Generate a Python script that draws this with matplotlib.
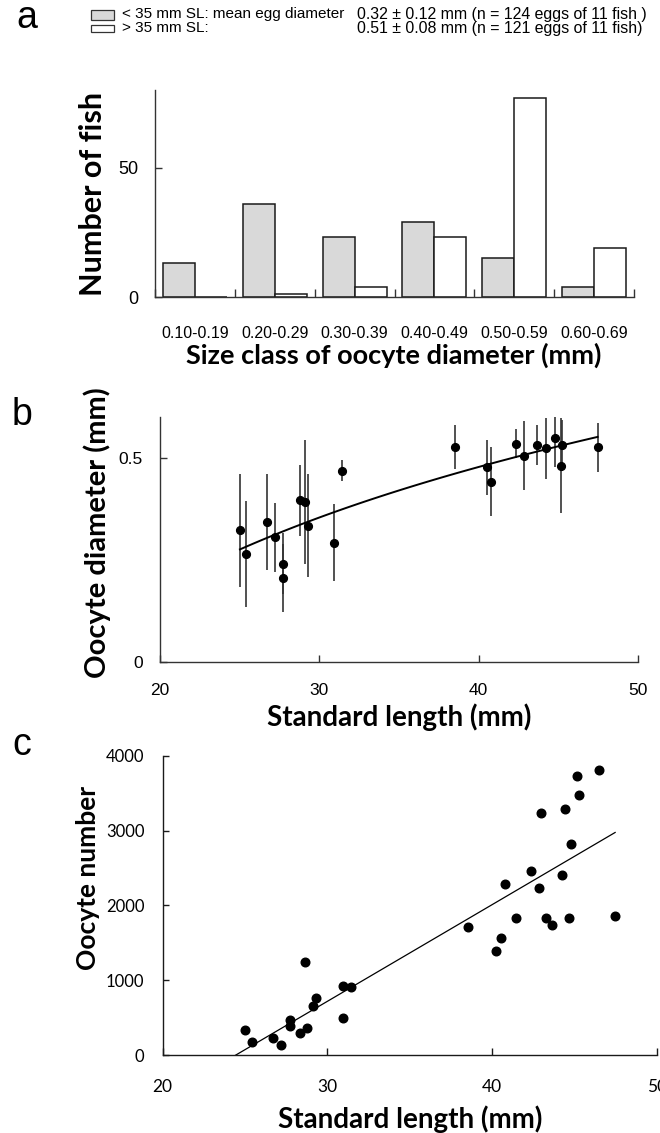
import matplotlib
matplotlib.use("Agg")
import matplotlib.pyplot as plt
from matplotlib.patches import Rectangle
import numpy as np

# panel a: number of fish per oocyte size class
size_classes = ["0.10-0.19", "0.20-0.29", "0.30-0.39", "0.40-0.49", "0.50-0.59", "0.60-0.69"]
small_fish = [13, 36, 23, 29, 15, 4]     # < 35 mm SL
large_fish = [0, 1, 4, 23, 77, 19]       # > 35 mm SL

# panel b: mean oocyte diameter (+/- sd) vs standard length
sl_b = [25.04, 25.44, 26.72, 27.21, 27.72, 27.72, 28.82, 29.13, 29.33, 30.95, 31.46,
        38.54, 40.53, 40.75, 42.34, 42.86, 43.64, 44.24, 44.76, 45.14, 45.25, 47.45]
diam_b = [0.323, 0.264, 0.343, 0.305, 0.241, 0.205, 0.396, 0.392, 0.334, 0.292, 0.469,
          0.528, 0.477, 0.442, 0.535, 0.506, 0.533, 0.524, 0.549, 0.481, 0.531, 0.526]
sd_b = [0.139, 0.130, 0.118, 0.085, 0.074, 0.084, 0.088, 0.152, 0.127, 0.094, 0.025,
        0.054, 0.068, 0.085, 0.036, 0.084, 0.049, 0.075, 0.070, 0.117, 0.063, 0.060]

# panel c: oocyte number vs standard length
sl_c = [25.02, 25.41, 26.69, 27.21, 27.71, 27.71, 28.32, 28.62, 28.79, 29.12, 29.31,
        30.94, 30.94, 31.41, 38.52, 40.23, 40.53, 40.75, 41.44, 42.33, 42.85, 42.96,
        43.24, 43.65, 44.24, 44.41, 44.69, 44.76, 45.12, 45.25, 46.47, 47.46]
count_c = [330, 169, 232, 134, 472, 388, 290, 1238, 365, 659, 766,
           927, 494, 909, 1706, 1390, 1568, 2290, 1835, 2463, 2232, 3238,
           1835, 1742, 2410, 3287, 1826, 2824, 3733, 3470, 3804, 1853]

W, H = 660, 1133
ARIAL = ["Liberation Sans", "DejaVu Sans"]
CALIBRI = ["Lato", "DejaVu Sans"]


def fx(px):
    return px / W


def fy(py):
    return 1 - py / H


def box(left, top, right, bottom):
    return [fx(left), fy(bottom), (right - left) / W, (bottom - top) / H]


def style_axes(ax, color="#333333"):
    for side in ["top", "right"]:
        ax.spines[side].set_visible(False)
    for side in ["left", "bottom"]:
        ax.spines[side].set_color(color)
        ax.spines[side].set_linewidth(1.0)
    ax.tick_params(which="both", direction="in", color=color, width=1.0)


fig = plt.figure(figsize=(W / 100, H / 100), dpi=100)

# ---- panel a
ax1 = fig.add_axes(box(155, 90, 634, 297))
style_axes(ax1)
pos = np.arange(len(size_classes))
ax1.bar(pos - 0.2, small_fish, width=0.4, color="#d9d9d9", edgecolor="#1a1a1a", linewidth=1.1)
ax1.bar(pos + 0.2, large_fish, width=0.4, color="white", edgecolor="#1a1a1a", linewidth=1.1)
ax1.set_xlim(-0.5, len(size_classes) - 0.5)
ax1.set_ylim(0, 80)
ax1.set_yticks([0, 50])
ax1.set_yticklabels(["0", "50"], family=ARIAL, fontsize=13)
ax1.tick_params(axis="y", length=5, pad=12)
ax1.set_xticks(np.arange(len(size_classes) + 1) - 0.5)
ax1.set_xticklabels([])
ax1.tick_params(axis="x", which="major", length=6)
ax1.set_xticks(pos, minor=True)
ax1.set_xticklabels(size_classes, minor=True, family=ARIAL, fontsize=11.5)
ax1.tick_params(axis="x", which="minor", length=0, pad=21)

fig.text(fx(93), fy(194), "Number of fish", rotation=90, ha="center", va="center",
         family=CALIBRI, fontweight="bold", fontsize=22)
fig.text(fx(394), fy(355), "Size class of oocyte diameter (mm)", ha="center", va="center",
         family=CALIBRI, fontweight="bold", fontsize=19.5)

# legend at top
fig.patches.append(Rectangle((fx(90.5), fy(19.5)), 23 / W, 9.5 / H, transform=fig.transFigure,
                             facecolor="#d9d9d9", edgecolor="#333333", linewidth=0.9))
fig.patches.append(Rectangle((fx(90.5), fy(32)), 23 / W, 7.5 / H, transform=fig.transFigure,
                             facecolor="white", edgecolor="#333333", linewidth=0.9))
fig.text(fx(122), fy(14), "< 35 mm SL: mean egg diameter", va="center", family=ARIAL, fontsize=11)
fig.text(fx(122), fy(28), "> 35 mm SL:", va="center", family=ARIAL, fontsize=11)
fig.text(fx(357), fy(14), "0.32 \u00b1 0.12 mm (n = 124 eggs of 11 fish )", va="center",
         family=ARIAL, fontsize=11.4)
fig.text(fx(357), fy(28), "0.51 \u00b1 0.08 mm (n = 121 eggs of 11 fish)", va="center",
         family=ARIAL, fontsize=11.4)

# ---- panel b
ax2 = fig.add_axes(box(159.5, 417.3, 638.3, 661.7))
style_axes(ax2)
ax2.errorbar(sl_b, diam_b, yerr=sd_b, fmt="none", ecolor="#333333", elinewidth=1.2, capsize=0)
ax2.plot(sl_b, diam_b, "o", color="black", markersize=5.6, zorder=3)
coef_b = np.polyfit(np.log(sl_b), diam_b, 1)
xs_b = np.linspace(min(sl_b), max(sl_b), 100)
ax2.plot(xs_b, coef_b[0] * np.log(xs_b) + coef_b[1], color="black", linewidth=1.4)
ax2.set_xlim(20, 50)
ax2.set_ylim(0, 0.6)
ax2.set_xticks([20, 30, 40, 50])
ax2.set_xticklabels(["20", "30", "40", "50"], family=ARIAL, fontsize=12.5)
ax2.set_yticks([0, 0.5])
ax2.set_yticklabels(["0", "0.5"], family=ARIAL, fontsize=12.5)
ax2.tick_params(axis="x", length=5, pad=15)
ax2.tick_params(axis="y", length=5, pad=12)
ax2.set_xlabel("Standard length (mm)", family=CALIBRI, fontweight="bold", fontsize=20, labelpad=4)
fig.text(fx(97), fy(533), "Oocyte diameter (mm)", rotation=90, ha="center", va="center",
         family=CALIBRI, fontweight="bold", fontsize=21)

# ---- panel c
ax3 = fig.add_axes(box(162.5, 755.7, 657, 1055))
style_axes(ax3, color="#1a1a1a")
ax3.plot(sl_c, count_c, "o", color="black", markersize=6.2, zorder=3)
coef_c = np.polyfit(sl_c, count_c, 1)
xs_c = np.array([20, max(sl_c)])
ax3.plot(xs_c, coef_c[0] * xs_c + coef_c[1], color="black", linewidth=0.9)
ax3.set_xlim(20, 50)
ax3.set_ylim(0, 4000)
ax3.set_xticks([20, 30, 40, 50])
ax3.set_xticklabels(["20", "30", "40", "50"], family=CALIBRI, fontsize=12.5)
ax3.set_yticks([0, 1000, 2000, 3000, 4000])
ax3.set_yticklabels(["0", "1000", "2000", "3000", "4000"], family=CALIBRI, fontsize=12)
ax3.tick_params(axis="x", length=5, pad=17)
ax3.tick_params(axis="y", length=4, pad=13)
ax3.set_xlabel("Standard length (mm)", family=CALIBRI, fontweight="bold", fontsize=20, labelpad=8)
fig.text(fx(88), fy(878), "Oocyte number", rotation=90, ha="center", va="center",
         family=CALIBRI, fontweight="bold", fontsize=19)

# panel letters
for letter, (lx, ly) in zip("abc", [(27, 18), (22, 415), (22, 745)]):
    fig.text(fx(lx), fy(ly), letter, ha="center", va="center", family=ARIAL, fontsize=27)

fig.savefig("out.png", dpi=100)
